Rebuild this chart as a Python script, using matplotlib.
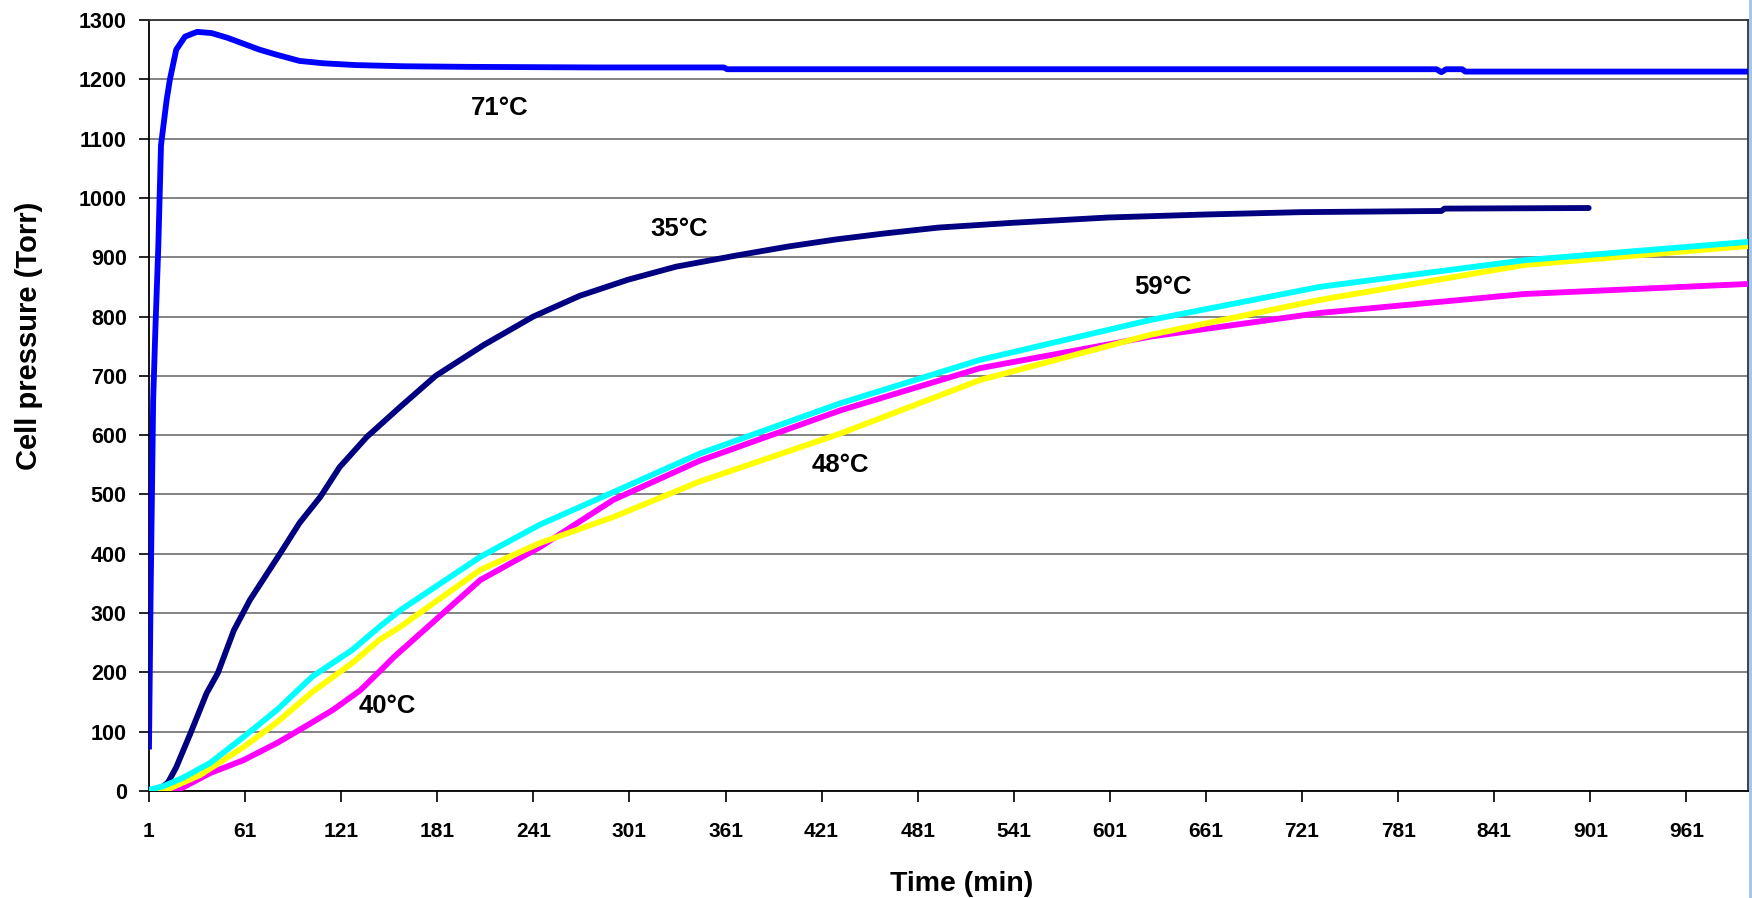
import numpy as np
import matplotlib
matplotlib.use("Agg")
import matplotlib.pyplot as plt
from matplotlib.patches import Rectangle

# --- data (time in min, pressure in Torr) ---
t71 = [1, 2, 3.6, 5, 6.8, 8.5, 12, 14, 18, 23.5, 31, 40, 50, 60, 70, 80, 95,
       110, 130, 160, 200, 280, 360, 362, 600, 805, 808, 811, 821, 823, 1000]
p71 = [75, 330, 659, 780, 917, 1089, 1165, 1199, 1250, 1272, 1280, 1278, 1270,
       1260, 1250, 1242, 1231, 1227, 1224, 1222, 1221, 1220, 1220, 1217, 1217,
       1217, 1212, 1217, 1217, 1213, 1213]

t35 = [1, 5, 10, 13, 18, 27, 37, 44, 54, 64, 83, 95, 108, 120, 137, 158, 180,
       210, 241, 270, 300, 330, 368, 400, 430, 460, 494, 540, 600, 660, 720,
       808, 810, 900]
p35 = [0, 3, 8, 15, 40, 98, 165, 199, 271, 322, 401, 452, 496, 546, 597, 648,
       700, 752, 800, 835, 862, 884, 903, 918, 930, 940, 950, 958, 967, 972,
       976, 978, 982, 983]

t40 = [1, 18, 25, 39, 60, 81, 100, 116, 133, 147, 154, 208, 245, 291, 345,
       433, 520, 626, 732, 860, 1000]
p40 = [0, 0, 10, 30, 52, 81, 111, 137, 170, 207, 226, 356, 411, 491, 557,
       642, 713, 766, 806, 838, 855]

t48 = [1, 12, 33, 60, 81, 103, 128, 145, 158, 208, 245, 291, 345, 433,
       520, 626, 732, 860, 1000]
p48 = [0, 2, 27, 74, 116, 167, 216, 255, 277, 373, 418, 462, 522, 603,
       693, 769, 828, 887, 919]

t59 = [1, 10, 22, 39, 60, 81, 103, 128, 145, 158, 208, 245, 291, 345,
       433, 520, 626, 732, 860, 1000]
p59 = [2, 8, 22, 47, 91, 137, 193, 238, 277, 305, 395, 449, 504, 569,
       654, 727, 794, 850, 895, 926]

labels = ["71°C", "35°C", "59°C", "48°C", "40°C"]
label_x = [220, 332, 634, 433, 150]
label_y = [1151, 948, 850, 550, 143]

xticks = list(range(1, 1000, 60))
yticks = list(range(0, 1301, 100))

plt.rcParams['font.family'] = ['Liberation Sans', 'DejaVu Sans']
plt.rcParams['font.weight'] = 'bold'

fig = plt.figure(figsize=(17.52, 8.98), dpi=100)
ax = fig.add_axes([149 / 1752, 1 - 791 / 898, (1748 - 149) / 1752, (791 - 20) / 898])

ax.set_axisbelow(True)
ax.yaxis.grid(True, color='#6e6e6e', linewidth=1.2)

lw = 4.2
ax.plot(t35, p35, color='#000080', lw=lw, solid_capstyle='round', zorder=3)
ax.plot(t40, p40, color='#FF00FF', lw=lw, zorder=3)
ax.plot(t48, p48, color='#FFFF00', lw=lw, zorder=3)
ax.plot(t59, p59, color='#00FFFF', lw=lw, zorder=3)
ax.plot(t71, p71, color='#0000FF', lw=lw, zorder=3)

for s, x, y in zip(labels, label_x, label_y):
    ax.text(x, y, s, fontsize=18.5, fontweight='bold', ha='center', va='center')

ax.set_xlim(1, 999.5)
ax.set_ylim(0, 1300)
ax.set_xticks(xticks)
ax.set_yticks(yticks)
ax.tick_params(axis='x', direction='out', length=8, width=1.2, pad=14, labelsize=15)
ax.tick_params(axis='y', direction='out', length=7, width=1.2, pad=9, labelsize=15.5)
for lab in ax.get_xticklabels() + ax.get_yticklabels():
    lab.set_fontweight('bold')

for side in ['left', 'bottom']:
    ax.spines[side].set_color('black')
    ax.spines[side].set_linewidth(1.3)
for side in ['top', 'right']:
    ax.spines[side].set_color('#333333')
    ax.spines[side].set_linewidth(1.3)

ax.set_xlabel('Time (min)', fontsize=20.5, fontweight='bold', labelpad=22)
ax.xaxis.label.set_x(0.508)
ax.set_ylabel('Cell pressure (Torr)', fontsize=21, fontweight='bold')
ax.yaxis.set_label_coords(-0.066, 0.59)

# light blue strip at the right edge of the screenshot
fig.patches.append(Rectangle((1749 / 1752, 0), 3 / 1752, 1, transform=fig.transFigure,
                             facecolor='#9fc9f2', edgecolor='none'))

fig.savefig('out.png', dpi=100)
